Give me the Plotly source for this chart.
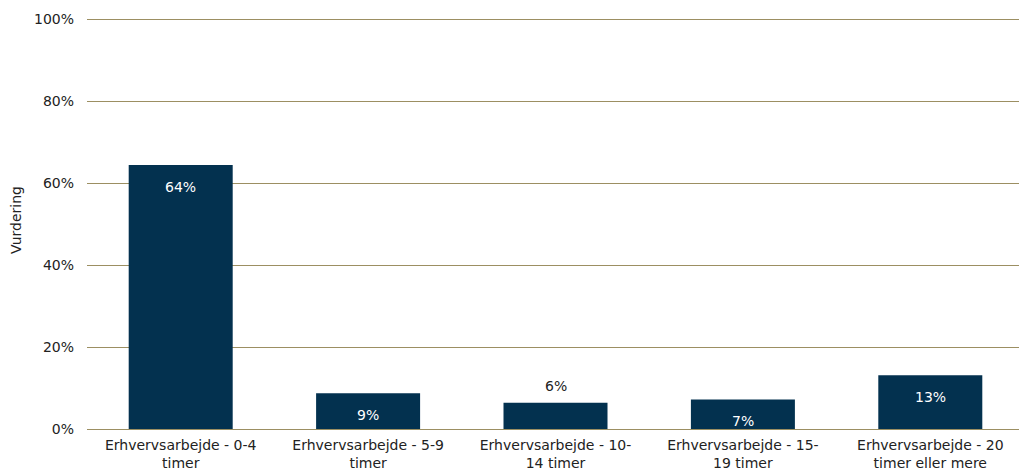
import plotly.graph_objects as go

categories = ["Erhvervsarbejde - 0-4<br>timer", "Erhvervsarbejde - 5-9<br>timer",
              "Erhvervsarbejde - 10-<br>14 timer", "Erhvervsarbejde - 15-<br>19 timer",
              "Erhvervsarbejde - 20<br>timer eller mere"]
values = [64.4, 8.7, 6.4, 7.2, 13.1]
labels = ["64%", "9%", "6%", "7%", "13%"]
inside = [True, True, False, True, True]

FONT = "DejaVu Sans"
BAR = "#03314f"
GRID = "#9c8f62"

fig = go.Figure(go.Bar(x=categories, y=values, marker_color=BAR, marker_line_width=0,
                       hoverinfo="skip"))

for c, v, t, ins in zip(categories, values, labels, inside):
    fig.add_annotation(x=c, y=v, text=t, showarrow=False,
                       yanchor="top" if ins else "bottom",
                       yshift=-12 if ins else 7,
                       font=dict(family=FONT, size=14, color="white" if ins else "#222222"))

fig.update_layout(
    width=1027, height=473,
    margin=dict(l=79, r=11, t=3, b=52),
    paper_bgcolor="white", plot_bgcolor="white",
    bargap=0.445, showlegend=False,
    font=dict(family=FONT, size=14, color="#222222"),
    xaxis=dict(showgrid=False, ticks="", automargin=False, tickfont=dict(size=14),
               showline=False, ticklabelstandoff=6),
    yaxis=dict(range=[0, 102], tickvals=[0, 20, 40, 60, 80, 100],
               ticktext=["0%", "20%", "40%", "60%", "80%", "100%"],
               showgrid=True, gridcolor=GRID, gridwidth=1, zeroline=True,
               zerolinecolor=GRID, zerolinewidth=1, automargin=False,
               ticklabelstandoff=12,
               title=dict(text="Vurdering", font=dict(size=14), standoff=20)),
)

fig.write_html("out.html")
